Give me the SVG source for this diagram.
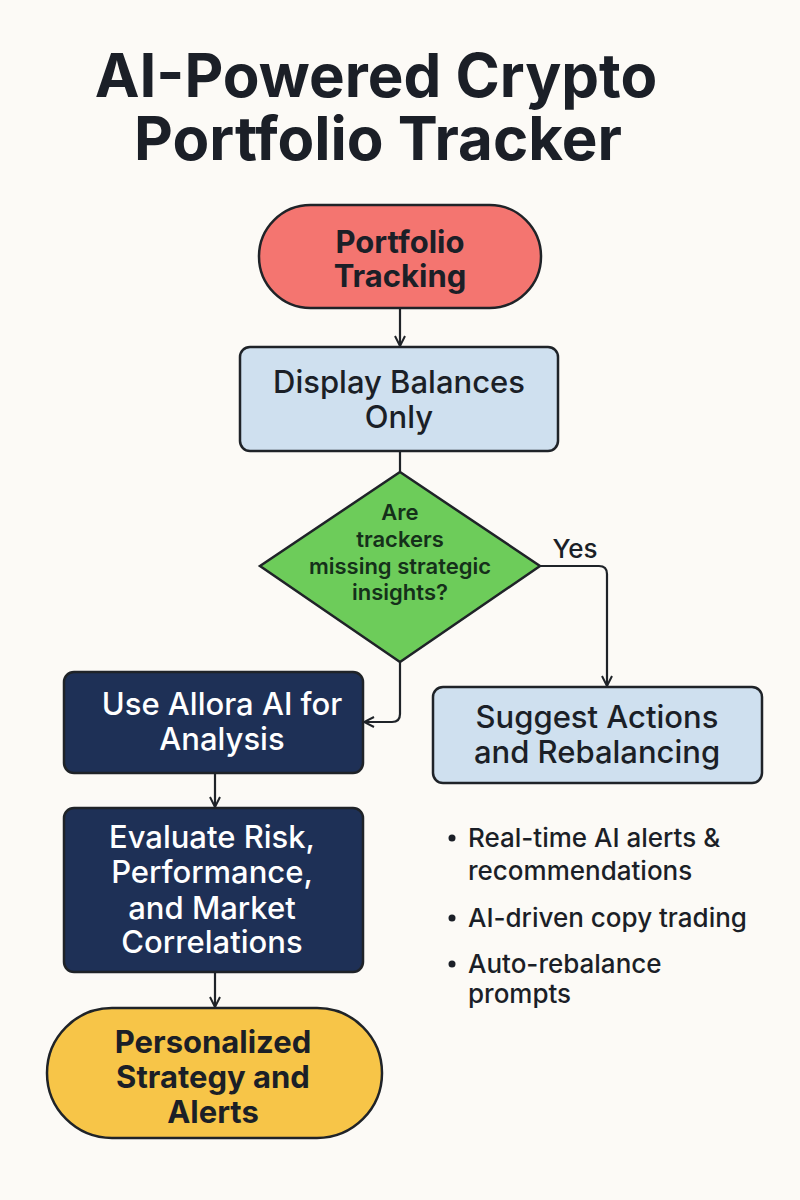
<svg xmlns="http://www.w3.org/2000/svg" width="800" height="1200" viewBox="0 0 800 1200">
<defs>
<marker id="arr" viewBox="0 0 12 12" refX="11" refY="6" markerWidth="12" markerHeight="12" markerUnits="userSpaceOnUse" orient="auto">
<path d="M1,1 L11,6 L1,11" fill="none" stroke="#1f2328" stroke-width="2"/>
</marker>
<style>
.t{font-family:Inter,"Liberation Sans",sans-serif;text-anchor:middle}
.node{stroke:#1f2328;stroke-width:2.5}
.dk{fill:#1b1f27}
.wh{fill:#ffffff}
.n{font-size:31px;font-weight:500}
.nb{font-size:31px;font-weight:650}
.d{font-size:22px;font-weight:600;fill:#15301a}
.conn{fill:none;stroke:#1f2328;stroke-width:2.2}
.b{font-family:Inter,"Liberation Sans",sans-serif;font-size:26px;font-weight:500;fill:#1b1f27}
</style>
</defs>
<rect width="800" height="1200" fill="#fcfaf6"/>
<g id="title">
<text class="t dk" x="376" y="97" font-size="60" font-weight="700">AI-Powered Crypto</text>
<text class="t dk" x="378" y="160" font-size="60" font-weight="700">Portfolio Tracker</text>
</g>
<g id="connectors">
<path class="conn" d="M400,308 V346" marker-end="url(#arr)"/>
<path class="conn" d="M400,451 V472"/>
<path class="conn" d="M540,566 H599 Q607,566 607,574 V686" marker-end="url(#arr)"/>
<path class="conn" d="M400,662 V714 Q400,722 392,722 H364" marker-end="url(#arr)"/>
<path class="conn" d="M215,773 V807" marker-end="url(#arr)"/>
<path class="conn" d="M215,972 V1007" marker-end="url(#arr)"/>
<text class="b" x="575" y="558" font-size="23" text-anchor="middle">Yes</text>
</g>
<g id="portfolio-tracking">
<rect class="node" x="259" y="205" width="282" height="103" rx="51.5" fill="#f47570"/>
<text class="t dk nb" x="400" y="253">Portfolio</text>
<text class="t dk nb" x="400" y="287">Tracking</text>
</g>
<g id="display-balances">
<rect class="node" x="240" y="347" width="318" height="104" rx="10" fill="#cfe0ef"/>
<text class="t dk n" x="399" y="393">Display Balances</text>
<text class="t dk n" x="399" y="428">Only</text>
</g>
<g id="decision">
<polygon class="node" points="400,472 540,566 400,662 260,566" fill="#6dcc5a"/>
<text class="t d" x="400" y="520">Are</text>
<text class="t d" x="400" y="547">trackers</text>
<text class="t d" x="400" y="574">missing strategic</text>
<text class="t d" x="400" y="600">insights?</text>
</g>
<g id="use-allora">
<rect class="node" x="64" y="672" width="299" height="101" rx="10" fill="#1e3056"/>
<text class="t wh n" x="222" y="715">Use Allora AI for</text>
<text class="t wh n" x="222" y="750">Analysis</text>
</g>
<g id="evaluate">
<rect class="node" x="64" y="808" width="299" height="164" rx="10" fill="#1e3056"/>
<text class="t wh n" x="212" y="848">Evaluate Risk,</text>
<text class="t wh n" x="212" y="883">Performance,</text>
<text class="t wh n" x="212" y="919">and Market</text>
<text class="t wh n" x="212" y="953">Correlations</text>
</g>
<g id="personalized">
<rect class="node" x="47" y="1008" width="335" height="130" rx="65" fill="#f7c548"/>
<text class="t dk nb" x="213" y="1053">Personalized</text>
<text class="t dk nb" x="213" y="1088">Strategy and</text>
<text class="t dk nb" x="213" y="1123">Alerts</text>
</g>
<g id="suggest-actions">
<rect class="node" x="433" y="687" width="329" height="96" rx="10" fill="#cfe0ef"/>
<text class="t dk n" x="597" y="728">Suggest Actions</text>
<text class="t dk n" x="597" y="763">and Rebalancing</text>
</g>
<g id="bullets">
<circle cx="452" cy="838" r="3.5" fill="#1b1f27"/>
<text class="b" x="468" y="847">Real-time AI alerts &amp;</text>
<text class="b" x="468" y="880">recommendations</text>
<circle cx="452" cy="918" r="3.5" fill="#1b1f27"/>
<text class="b" x="468" y="927">AI-driven copy trading</text>
<circle cx="452" cy="964" r="3.5" fill="#1b1f27"/>
<text class="b" x="468" y="973">Auto-rebalance</text>
<text class="b" x="468" y="1003">prompts</text>
</g>
</svg>
